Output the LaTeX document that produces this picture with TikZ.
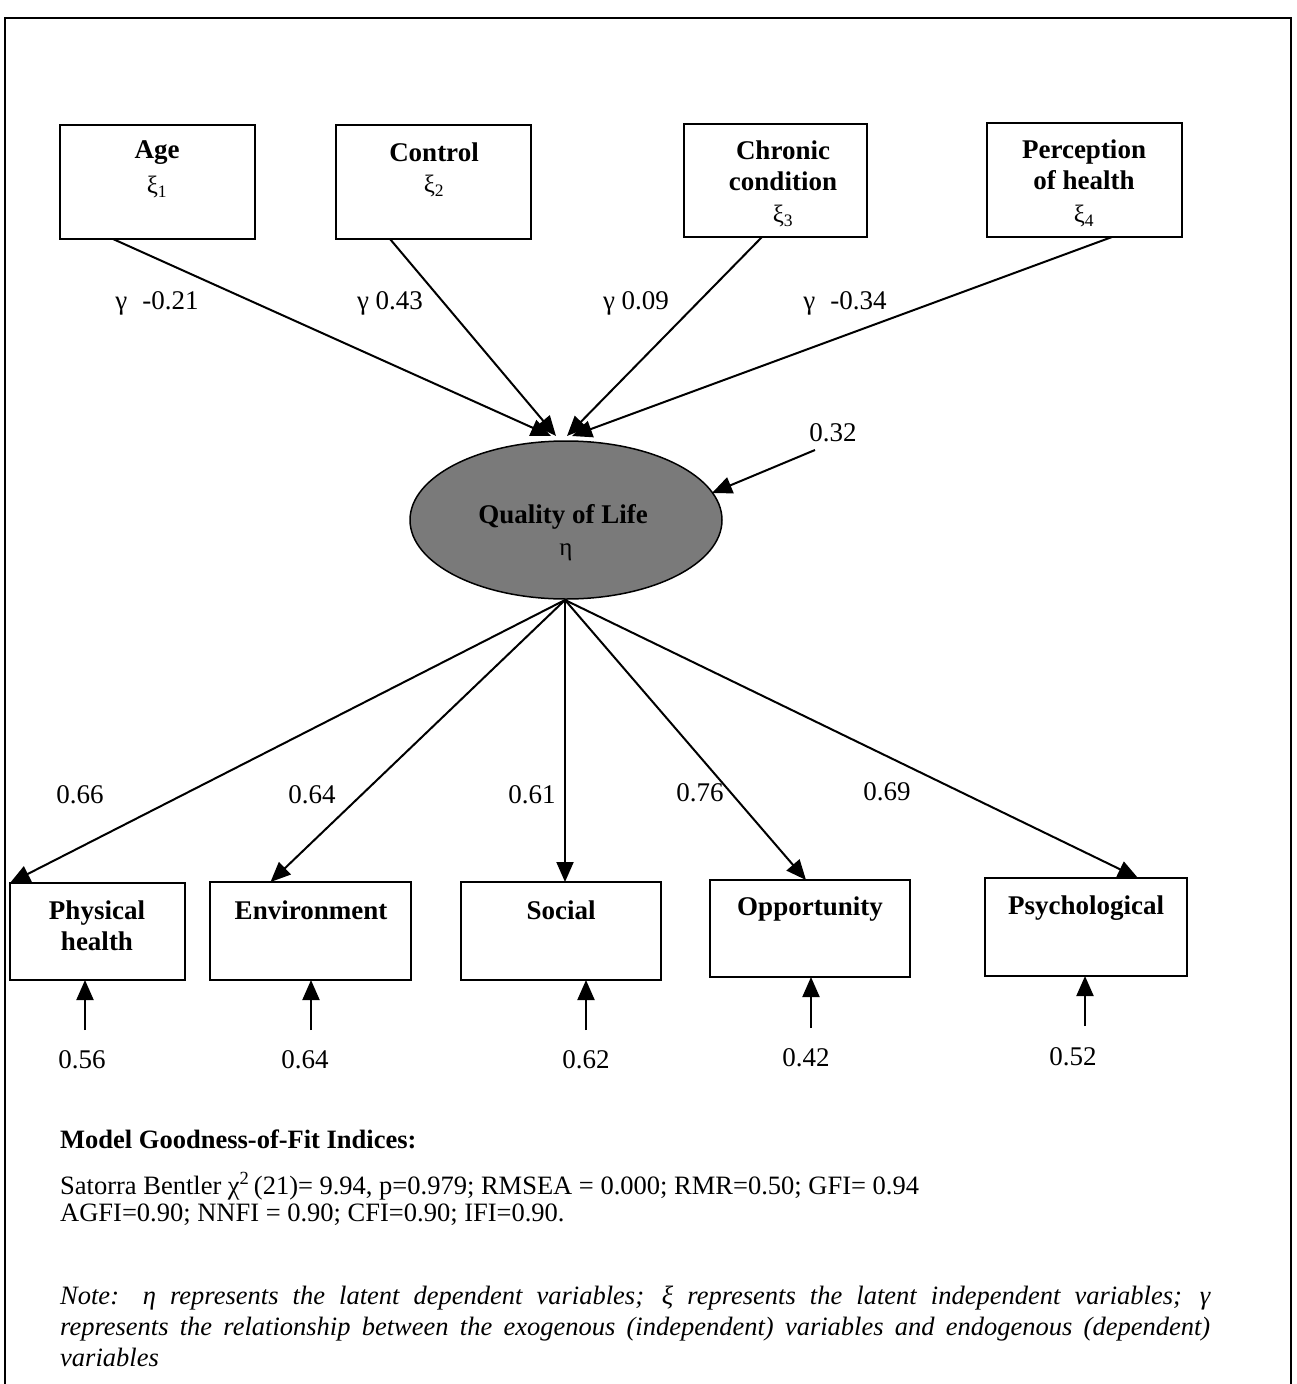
\documentclass[tikz,border=0pt]{standalone}
\usepackage{fontspec}
\setmainfont{Liberation Serif}
\usetikzlibrary{arrows.meta,shapes.geometric}

\begin{document}
\begin{tikzpicture}[x=1pt,y=-1pt,
  box/.style={draw,line width=2.4pt,inner sep=0pt,outer sep=0pt},
  lbl/.style={font=\fontsize{27}{31}\selectfont\bfseries,inner sep=0pt,align=center},
  sym/.style={font=\fontsize{25}{28}\selectfont,inner sep=0pt},
  num/.style={font=\fontsize{27}{30}\selectfont,inner sep=0pt},
  txt/.style={font=\fontsize{26.5}{30}\selectfont,inner sep=0pt,anchor=base west},
  arr/.style={line width=2pt,-{Triangle[length=20pt,width=17pt]}},
  ]
\useasboundingbox (0,0) rectangle (1297,1384);

% outer frame (bottom edge runs off the page)
\draw[line width=2pt] (5,1384) -- (5,18) -- (1291,18) -- (1291,1384);

% exogenous variables
\node[box,minimum width=195pt,minimum height=114pt] (age)  at (157.5,182) {};
\node[box,minimum width=195pt,minimum height=114pt] (ctrl) at (433.5,182) {};
\node[box,minimum width=183pt,minimum height=113pt] (chr)  at (775.5,180.5) {};
\node[box,minimum width=195pt,minimum height=114pt] (perc) at (1084.5,180) {};

\node[lbl] (age-t)  at (157,153) {Age};
\node[sym] (age-x)  at (157,187) {ξ\textsubscript{1}};
\node[lbl] (ctrl-t) at (434,152) {Control};
\node[sym] (ctrl-x) at (434,186) {ξ\textsubscript{2}};
\node[lbl] (chr-t)  at (783,166) {Chronic\\condition};
\node[sym] (chr-x)  at (783,216) {ξ\textsubscript{3}};
\node[lbl] (perc-t) at (1084,165) {Perception\\of health};
\node[sym] (perc-x) at (1084,216) {ξ\textsubscript{4}};

% latent endogenous variable
\node[ellipse,draw,line width=1.5pt,fill=black!52,minimum width=312pt,minimum height=158pt,inner sep=0pt] (qol) at (566,520) {};
\node[lbl] (qol-t) at (563,517) {Quality of Life};
\node[sym] (qol-e) at (566,552) {η};

% gamma paths
\coordinate (t1) at (551,436);
\coordinate (t2) at (556,436);
\coordinate (t3) at (567,436);
\coordinate (t4) at (572,436);
\draw[arr] (age.south west) ++(53,0) -- (t1);
\draw[arr] (ctrl.south west) ++(54,0) -- (t2);
\draw[arr] (chr.south west) ++(78,0) -- (t3);
\draw[arr] (perc.south west) ++(125,0) -- (t4);

\node[num] (g1) at (157,303) {γ\;\;-0.21};
\node[num] (g2) at (390,303) {γ 0.43};
\node[num] (g3) at (636,303) {γ 0.09};
\node[num] (g4) at (845,303) {γ\;\;-0.34};

% disturbance of quality of life
\coordinate (d0) at (815,450);
\node[num] (dq) at (833,433) {0.32};
\draw[arr] (d0) -- (712,493);

% indicators
\node[box,minimum width=175pt,minimum height=97pt] (phys) at (97.5,931.5) {};
\node[box,minimum width=201pt,minimum height=98pt] (env)  at (310.5,931) {};
\node[box,minimum width=200pt,minimum height=98pt] (soc)  at (561,931) {};
\node[box,minimum width=200pt,minimum height=97pt] (opp)  at (810,928.5) {};
\node[box,minimum width=202pt,minimum height=98pt] (psy)  at (1086,927) {};

\node[lbl] (phys-t) at (97,926) {Physical\\health};
\node[lbl] (env-t)  at (311,910) {Environment};
\node[lbl] (soc-t)  at (561,910) {Social};
\node[lbl] (opp-t)  at (810,909) {Opportunity};
\node[lbl] (psy-t)  at (1086,908) {Psychological};

% loadings
\coordinate (qb) at (565,600);
\draw[arr] (qb) -- (phys.north west);
\draw[arr] (qb) -- ([xshift=-40pt]env.north);
\draw[arr] (qb) -- (soc.north -| qb);
\draw[arr] (qb) -- ([xshift=-4pt]opp.north);
\draw[arr] (qb) -- ([xshift=52pt]psy.north);

\node[num] (l1) at (80,795)  {0.66};
\node[num] (l2) at (312,795) {0.64};
\node[num] (l3) at (532,795) {0.61};
\node[num] (l4) at (700,793) {0.76};
\node[num] (l5) at (887,792) {0.69};

% measurement errors
\coordinate (e1) at (85,1030);
\coordinate (e2) at (311,1030);
\coordinate (e3) at (586,1030);
\coordinate (e4) at (811,1028);
\coordinate (e5) at (1085,1026);
\draw[arr] (e1) -- (e1 |- phys.south);
\draw[arr] (e2) -- (e2 |- env.south);
\draw[arr] (e3) -- (e3 |- soc.south);
\draw[arr] (e4) -- (e4 |- opp.south);
\draw[arr] (e5) -- (e5 |- psy.south);

\node[num] (r1) at (82,1060)   {0.56};
\node[num] (r2) at (305,1060)  {0.64};
\node[num] (r3) at (586,1060)  {0.62};
\node[num] (r4) at (806,1058)  {0.42};
\node[num] (r5) at (1073,1057) {0.52};

% fit indices
\node[txt,font=\fontsize{26.5}{30}\selectfont\bfseries] (fit-h) at (60,1148) {Model Goodness-of-Fit Indices:};
\node[txt] (fit-1) at (60,1194) {Satorra Bentler χ\textsuperscript{2}\,(21)= 9.94, p=0.979; RMSEA = 0.000; RMR=0.50; GFI= 0.94};
\node[txt] (fit-2) at (60,1221) {AGFI=0.90; NNFI = 0.90; CFI=0.90; IFI=0.90.};

% note
\node[txt,font=\fontsize{26.5}{30}\selectfont\itshape] (note-1) at (60,1304)
  {\makebox[1150pt][s]{Note: η represents the latent dependent variables; ξ represents the latent independent variables; γ}};
\node[txt,font=\fontsize{26.5}{30}\selectfont\itshape] (note-2) at (60,1335)
  {\makebox[1150pt][s]{represents the relationship between the exogenous (independent) variables and endogenous (dependent)}};
\node[txt,font=\fontsize{26.5}{30}\selectfont\itshape] (note-3) at (60,1366) {variables};
\end{tikzpicture}
\end{document}
